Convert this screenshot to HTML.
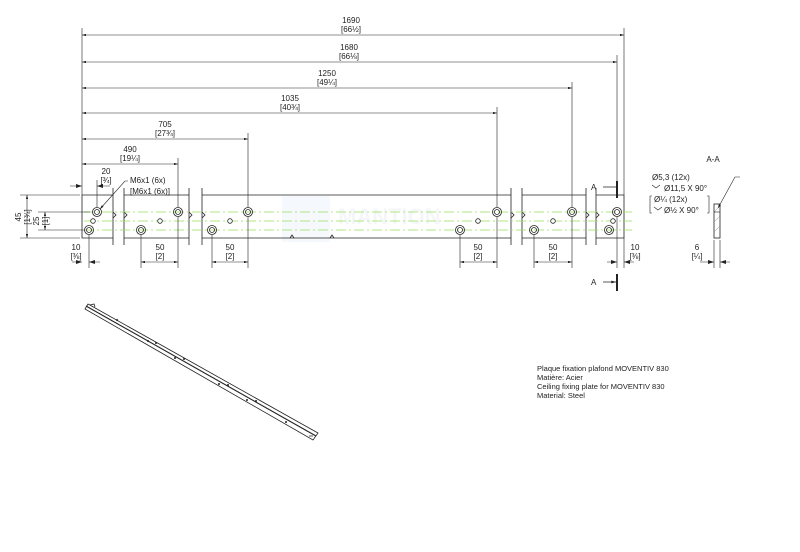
<!DOCTYPE html>
<html><head><meta charset="utf-8"><style>
html,body{margin:0;padding:0;background:#fff}
svg{display:block}
text{font-family:"Liberation Sans",sans-serif;font-size:8px;fill:#222}
</style></head><body>
<svg width="800" height="552" viewBox="0 0 800 552" xmlns="http://www.w3.org/2000/svg">
<defs>
<marker id="a" viewBox="0 0 10 6" refX="10" refY="3" markerWidth="7" markerHeight="4" orient="auto-start-reverse"><path d="M0,0L10,3L0,6z" fill="#222"/></marker>
<g id="cs"><circle r="4.5" fill="none" stroke="#222" stroke-width="0.8"/><circle r="2.5" fill="none" stroke="#222" stroke-width="0.8"/></g>
<g id="sm"><circle r="2.3" fill="#fff" stroke="#222" stroke-width="0.8"/></g>
</defs>
<!-- watermark -->
<rect x="282" y="196" width="48" height="46" fill="#f5f8fc"/>
<text x="338" y="224" style="font-size:22px;fill:#f4f6fa;font-weight:bold">MANTION</text>
<g stroke="#222" stroke-width="0.8" fill="none">
<path d="M113,195H82V238H113"/>
<path d="M124,195H189M124,238H189"/>
<path d="M202,195H511M202,238H511"/>
<path d="M522,195H586M522,238H586"/>
<path d="M596,195H624V238H596"/>
<path d="M113,188V245M124,188V245M189,188V245M202,188V245M511,188V245M522,188V245M586,188V245M596,188V245"/>
<path d="M113,212l3,3-3,3M124,212l3,3-3,3M189,212l3,3-3,3M202,212l3,3-3,3M511,212l3,3-3,3M522,212l3,3-3,3M586,212l3,3-3,3M596,212l3,3-3,3"/>
<path d="M290,238l2,-3 2,3M330,238l2,-3 2,3"/>
</g>
<g stroke="#9be05a" stroke-width="0.8" stroke-dasharray="10,3,2,3">
<path d="M84,212H632M84,221H632M84,230H632"/>
</g>
<use href="#cs" x="97" y="212"/><use href="#cs" x="178" y="212"/><use href="#cs" x="248" y="212"/>
<use href="#cs" x="497" y="212"/><use href="#cs" x="572" y="212"/><use href="#cs" x="617" y="212"/>
<use href="#cs" x="89" y="230"/><use href="#cs" x="141" y="230"/><use href="#cs" x="212" y="230"/>
<use href="#cs" x="460" y="230"/><use href="#cs" x="534" y="230"/><use href="#cs" x="609" y="230"/>
<use href="#sm" x="93" y="221"/><use href="#sm" x="160" y="221"/><use href="#sm" x="230" y="221"/>
<use href="#sm" x="478" y="221"/><use href="#sm" x="553" y="221"/><use href="#sm" x="613" y="221"/>
<g stroke="#222" stroke-width="0.6" fill="none">
<path d="M82,28V195M624,28V195M617,55V183M572,82V207M497,107V207M248,133V207M178,158V207M97,180V207"/>
<path d="M89,235V268M141,235V268M178,217V268M212,235V268M248,217V268M460,235V268M497,217V268M534,235V268M572,217V268M617,217V268M624,238V268"/>
<path d="M20,195H80M38,212H90M38,230H84M20,238H80"/>
</g>
<g stroke="#222" stroke-width="0.6" fill="none" marker-start="url(#a)" marker-end="url(#a)">
<path d="M82,35H624"/><path d="M82,62H617"/><path d="M82,88H572"/><path d="M82,113H497"/>
<path d="M82,139H248"/><path d="M82,164H178"/>
<path d="M141,262H178"/><path d="M212,262H248"/><path d="M460,262H497"/><path d="M534,262H572"/>
<path d="M27,195V238"/><path d="M45,212V230"/>
</g>
<g stroke="#222" stroke-width="0.6" fill="none">
<path d="M70,186H82M97,186H110" /><path d="M72,262H82M89,262H100"/><path d="M607,262H617M624,262H634"/>
</g>
<path d="M82,186l-6,-2v4z M97,186l6,-2v4z M82,262l-6,-2v4z M89,262l6,-2v4z M617,262l-6,-2v4z M624,262l6,-2v4z" fill="#222"/>
<g text-anchor="middle">
<text x="351" y="23">1690</text><text x="351" y="32">[66½]</text>
<text x="349" y="50">1680</text><text x="349" y="59">[66⅛]</text>
<text x="327" y="76">1250</text><text x="327" y="85">[49¼]</text>
<text x="290" y="101">1035</text><text x="290" y="110">[40¾]</text>
<text x="165" y="127">705</text><text x="165" y="136">[27¾]</text>
<text x="130" y="152">490</text><text x="130" y="161">[19¼]</text>
<text x="106" y="174">20</text><text x="106" y="183">[¾]</text>
<text x="76" y="250">10</text><text x="76" y="259">[⅜]</text>
<text x="160" y="250">50</text><text x="160" y="259">[2]</text>
<text x="230" y="250">50</text><text x="230" y="259">[2]</text>
<text x="478" y="250">50</text><text x="478" y="259">[2]</text>
<text x="553" y="250">50</text><text x="553" y="259">[2]</text>
<text x="635" y="250">10</text><text x="635" y="259">[⅜]</text>
<text x="697" y="250">6</text><text x="697" y="259">[¼]</text>
<text x="713" y="162">A-A</text>
</g>
<text transform="translate(21,217) rotate(-90)" text-anchor="middle">45</text>
<text transform="translate(30,217) rotate(-90)" text-anchor="middle">[1¾]</text>
<text transform="translate(39,221) rotate(-90)" text-anchor="middle">25</text>
<text transform="translate(48,221) rotate(-90)" text-anchor="middle">[1]</text>
<text x="130" y="183">M6x1 (6x)</text><text x="130" y="194">[M6x1 (6x)]</text>
<path d="M128,181L125,181L100,209" stroke="#222" stroke-width="0.6" fill="none" marker-end="url(#a)"/>
<g stroke="#222" fill="none">
<path d="M617,181V198M617,274V291" stroke-width="2"/>
<path d="M603,187H616M603,282H616" stroke-width="0.7" marker-end="url(#a)"/>
</g>
<text x="591" y="190">A</text><text x="591" y="285">A</text>
<rect x="714" y="204" width="6" height="34" fill="#fff" stroke="#222" stroke-width="0.8"/>
<path d="M714,212L720,206M714,222L720,216M714,232L720,226" stroke="#888" stroke-width="0.5"/>
<path d="M714,212H720" stroke="#222" stroke-width="0.6"/>
<path d="M740,177H735L718,208" stroke="#222" stroke-width="0.6" fill="none" marker-end="url(#a)"/>
<path d="M714,240V268M720,240V268" stroke="#222" stroke-width="0.6"/>
<path d="M700,262H714M720,262H730" stroke="#222" stroke-width="0.6"/>
<path d="M714,262l-6,-2v4zM720,262l6,-2v4z" fill="#222"/>
<text x="652" y="180">Ø5,3 (12x)</text>
<text x="664" y="191">Ø11,5 X 90°</text>
<path d="M652,185l4,3 4,-3" stroke="#222" stroke-width="0.6" fill="none"/>
<text x="654" y="202">Ø¼ (12x)</text>
<text x="664" y="213">Ø½ X 90°</text>
<path d="M654,207l4,3 4,-3" stroke="#222" stroke-width="0.6" fill="none"/>
<path d="M652,196h-2v17h2M707,196h2v17h-2" stroke="#222" stroke-width="0.6" fill="none"/>
<g stroke="#222" stroke-width="0.8" fill="none">
<path d="M88,304L318,433L313,440L85,309Z"/>
<path d="M86,306L316,436" stroke-width="1.1"/>
<path d="M90,305l4,-1 1,3M309,436l4,0"/>
</g>
<g fill="#222">
<circle cx="117" cy="320" r="1"/><circle cx="148" cy="341" r="1"/><circle cx="156" cy="343" r="1"/>
<circle cx="175" cy="358" r="1"/><circle cx="184" cy="359" r="1"/><circle cx="219" cy="384" r="1"/>
<circle cx="228" cy="385" r="1"/><circle cx="247" cy="400" r="1"/><circle cx="256" cy="401" r="1"/><circle cx="286" cy="422" r="1"/>
</g>
<g>
<text x="537" y="371" style="font-size:7.5px">Plaque fixation plafond MOVENTIV 830</text>
<text x="537" y="380" style="font-size:7.5px">Matière: Acier</text>
<text x="537" y="389" style="font-size:7.5px">Ceiling fixing plate for MOVENTIV 830</text>
<text x="537" y="398" style="font-size:7.5px">Material: Steel</text>
</g>
</svg>
</body></html>
